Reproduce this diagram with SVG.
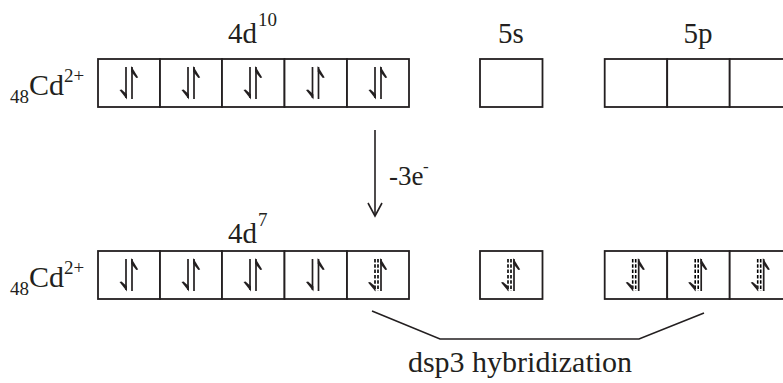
<svg xmlns="http://www.w3.org/2000/svg" xmlns:xlink="http://www.w3.org/1999/xlink" width="783" height="383" viewBox="0 0 783 383">
<style>
.box{fill:#fff;stroke:#231f20;stroke-width:1.8}
.t{fill:#231f20}
.ln{stroke:#231f20;stroke-width:1.7;fill:none}
.dl{stroke:#000;stroke-width:1.6;stroke-dasharray:3.5 1.8;fill:none}
.bb{fill:#231f20;stroke:none}
.con{stroke:#231f20;stroke-width:1.6;fill:none}
</style>
<defs>
<g id="pair">
<path class="ln" d="M28 8V39"/>
<polygon class="bb" points="29,40.5 21.5,31 23.6,30.6 28.9,35.2"/>
<path class="ln" d="M34 8V40"/>
<polygon class="bb" points="33.2,7 40.2,18.5 38.3,19 33.2,12.8"/>
</g>
<g id="dpair">
<path class="dl" d="M28 8V40"/>
<path class="dl" d="M31 8V40"/>
<polygon class="bb" points="28.5,40.5 21,31.5 23,31 28.5,35.5"/>
<path class="ln" d="M34 8V40"/>
<polygon class="bb" points="33.2,7 40.2,18.5 38.3,19 33.2,12.8"/>
</g>
</defs>

<g font-family="Liberation Serif, Tinos, Times New Roman, DejaVu Serif, serif">
<g id="label-top">
<text class="t" x="10" y="103" font-size="19">48</text>
<text class="t" x="29" y="95" font-size="30">Cd</text>
<text class="t" x="64" y="82" font-size="19">2+</text>
<text class="t" x="228" y="43" font-size="29">4d</text>
<text class="t" x="258" y="26" font-size="19">10</text>
<text class="t" x="511" y="43" font-size="29" text-anchor="middle">5s</text>
<text class="t" x="698" y="43" font-size="29" text-anchor="middle">5p</text>
</g>
<g id="label-bottom">
<text class="t" x="10" y="295" font-size="19">48</text>
<text class="t" x="29" y="287" font-size="30">Cd</text>
<text class="t" x="64" y="274" font-size="19">2+</text>
<text class="t" x="228" y="243" font-size="29">4d</text>
<text class="t" x="258" y="226" font-size="19">7</text>
</g>
<g id="annotations">
<text class="t" x="389" y="185" font-size="27">-3e</text>
<text class="t" x="423" y="172" font-size="17">-</text>
<text class="t" x="520" y="372" font-size="30" text-anchor="middle">dsp3 hybridization</text>
</g>
</g>

<g id="row-top">
<rect class="box" x="98" y="59" width="62" height="48"/>
<rect class="box" x="160" y="59" width="62" height="48"/>
<rect class="box" x="222" y="59" width="62.5" height="48"/>
<rect class="box" x="284.5" y="59" width="62.5" height="48"/>
<rect class="box" x="347" y="59" width="62" height="48"/>
<use xlink:href="#pair" x="98" y="59"/>
<use xlink:href="#pair" x="160" y="59"/>
<use xlink:href="#pair" x="222" y="59"/>
<use xlink:href="#pair" x="284.5" y="59"/>
<use xlink:href="#pair" x="347" y="59"/>
<rect class="box" x="480" y="59" width="62.5" height="48"/>
<rect class="box" x="604.7" y="59" width="62.5" height="48"/>
<rect class="box" x="667.2" y="59" width="62.5" height="48"/>
<rect class="box" x="729.7" y="59" width="62.5" height="48"/>
</g>

<g id="row-bottom">
<rect class="box" x="98" y="251" width="62" height="48"/>
<rect class="box" x="160" y="251" width="62" height="48"/>
<rect class="box" x="222" y="251" width="62.5" height="48"/>
<rect class="box" x="284.5" y="251" width="62.5" height="48"/>
<rect class="box" x="347" y="251" width="62" height="48"/>
<use xlink:href="#pair" x="98" y="251"/>
<use xlink:href="#pair" x="160" y="251"/>
<use xlink:href="#pair" x="222" y="251"/>
<use xlink:href="#pair" x="284.5" y="251"/>
<use xlink:href="#dpair" x="347" y="251"/>
<rect class="box" x="480" y="251" width="62.5" height="48"/>
<use xlink:href="#dpair" x="480" y="251"/>
<rect class="box" x="604.7" y="251" width="62.5" height="48"/>
<rect class="box" x="667.2" y="251" width="62.5" height="48"/>
<rect class="box" x="729.7" y="251" width="62.5" height="48"/>
<use xlink:href="#dpair" x="604.7" y="251"/>
<use xlink:href="#dpair" x="667.2" y="251"/>
<use xlink:href="#dpair" x="729.7" y="251"/>
</g>

<g id="connectors">
<path class="con" d="M375 130V216"/>
<path class="con" d="M368 203L375 216L382 203"/>
<polyline class="con" points="372,311 440,339 639,339 704,313"/>
</g>
</svg>
